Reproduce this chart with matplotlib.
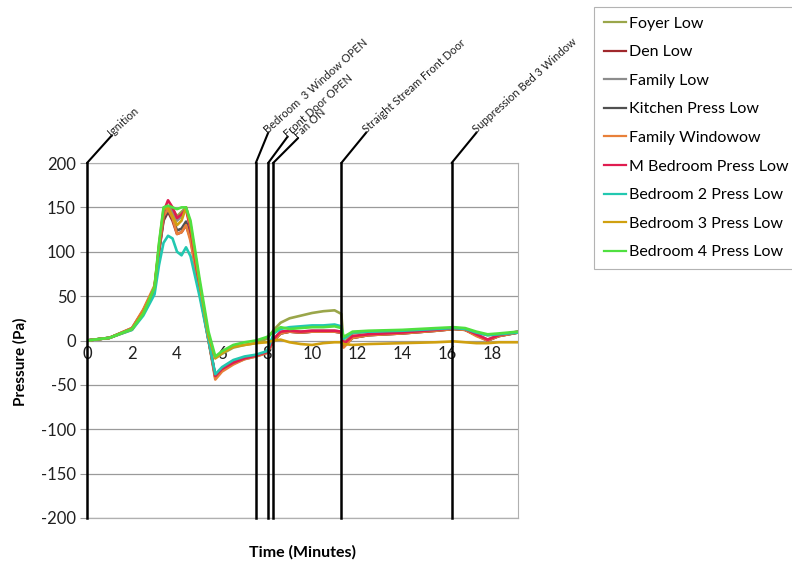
import matplotlib
matplotlib.use("Agg")
import matplotlib.pyplot as plt

plt.rcParams['font.family'] = ['Lato', 'DejaVu Sans']
plt.rcParams['axes.unicode_minus'] = False

# ---- data ----
t = [0, 1, 2, 2.5, 3, 3.2, 3.4, 3.6, 3.8, 4.0, 4.2, 4.4, 4.6, 5.0, 5.4, 5.7, 6.0, 6.5, 7.0, 7.5,
     8.0, 8.3, 8.6, 9.0, 9.5, 10.0, 10.5, 11.0, 11.3, 11.4, 11.8, 12.5, 14, 15.5, 16.3, 16.8, 17.3, 17.8, 18.3, 19.15]

foyer = [0, 3, 12, 30, 58, 105, 145, 150, 148, 140, 145, 150, 130, 65, 5, -20, -15, -8, -5, -3,
         2, 12, 20, 25, 28, 31, 33, 34, 30, -3, 8, 10, 11, 13, 14, 13, 9, 6, 7, 9]
den = [0, 3, 14, 34, 60, 100, 135, 145, 135, 120, 122, 130, 115, 55, 0, -40, -32, -25, -20, -17,
       -13, 0, 8, 10, 9, 10, 10, 10, 9, -6, 3, 6, 8, 11, 13, 12, 6, 0, 5, 9]
family = [0, 3, 13, 32, 58, 102, 140, 150, 145, 135, 140, 150, 128, 60, 2, -42, -33, -26, -21, -18,
          -14, 1, 9, 11, 10, 11, 11, 11, 10, -5, 4, 7, 9, 12, 14, 13, 7, 1, 6, 10]
kitchen = [0, 3, 13, 33, 59, 101, 137, 146, 138, 124, 126, 134, 118, 57, 1, -41, -33, -25, -20, -17,
           -13, 0, 8, 10, 9, 10, 10, 10, 9, -6, 3, 6, 8, 11, 13, 12, 6, 0, 5, 9]
family_window = [0, 3, 14, 35, 62, 103, 140, 148, 138, 120, 122, 130, 112, 55, 0, -44, -35, -27, -21, -18,
                 -14, 0, 8, 10, 9, 10, 10, 10, 9, -8, 3, 6, 8, 11, 13, 12, 5, 0, 5, 9]
m_bedroom = [0, 3, 13, 32, 58, 105, 145, 158, 150, 138, 142, 148, 125, 60, 2, -40, -32, -25, -20, -17,
             -13, 2, 10, 11, 10, 11, 11, 11, 10, -4, 5, 7, 9, 12, 14, 13, 7, 1, 6, 10]
bedroom2 = [0, 3, 12, 28, 52, 85, 110, 118, 115, 100, 96, 105, 95, 50, 0, -38, -30, -22, -18, -16,
            -12, 8, 13, 15, 16, 17, 17, 18, 16, 2, 9, 10, 11, 13, 14, 13, 9, 6, 7, 9]
bedroom3 = [0, 3, 13, 32, 60, 108, 148, 150, 140, 130, 135, 150, 130, 65, 5, -20, -14, -7, -5, -3,
            -2, 0, 1, -2, -4, -5, -3, -2, -2, -4, -5, -4, -3, -2, -1, -2, -3, -3, -2, -2]
bedroom4 = [0, 3, 13, 30, 60, 110, 150, 152, 150, 148, 150, 150, 135, 70, 10, -18, -12, -5, -2, 0,
            4, 10, 15, 13, 14, 15, 15, 16, 14, 4, 10, 11, 12, 14, 15, 14, 10, 7, 8, 10]

series_names = ["Foyer Low", "Den Low", "Family Low", "Kitchen Press Low", "Family Windowow",
                "M Bedroom Press Low", "Bedroom 2 Press Low", "Bedroom 3 Press Low", "Bedroom 4 Press Low"]
series_values = [foyer, den, family, kitchen, family_window, m_bedroom, bedroom2, bedroom3, bedroom4]
series_colors = ["#9aa64a", "#a0282c", "#8c8c8c", "#505050", "#e8803a",
                 "#e01c50", "#22c8b0", "#d0a010", "#50e040"]

event_times = [0, 7.5, 8.05, 8.27, 11.3, 16.2]
event_labels = ["Ignition", "Bedroom  3 Window OPEN", "Front Door OPEN", "Fan ON",
                "Straight Stream Front Door", "Suppression Bed 3 Window"]
event_offsets = [(18, 20), (9, 22), (14, 19), (18, 18), (18, 22), (18, 22)]

yticks = [-200, -150, -100, -50, 0, 50, 100, 150, 200]
xticks = [0, 2, 4, 6, 8, 10, 12, 14, 16, 18]

# ---- figure ----
fig = plt.figure(figsize=(7.92, 5.61), dpi=100)
ax = fig.add_axes([87/792, 1-518/561, (518-87)/792, (518-163)/561])

for name, vals, col in zip(series_names, series_values, series_colors):
    ax.plot(t, vals, color=col, lw=1.9, label=name)

ax.set_xlim(0, 19.15)
ax.set_ylim(-200, 200)
ax.set_yticks(yticks)
ax.set_xticks(xticks)
ax.yaxis.grid(True, color="#9a9a9a", lw=0.9)
ax.set_axisbelow(True)

for sp in ['top', 'right']:
    ax.spines[sp].set_color("#b0b0b0")
ax.spines['left'].set_visible(False)
ax.spines['bottom'].set_position(('data', 0))
ax.spines['bottom'].set_visible(False)
ax.plot([0, 1], [0, 0], transform=ax.transAxes, color="#b0b0b0", lw=0.9, clip_on=False)

ax.tick_params(axis='x', length=0, labelsize=12, pad=4, colors="#202020")
ax.tick_params(axis='y', length=5, color="#9a9a9a", labelsize=12, labelcolor="#202020", pad=3)

# event lines and leader labels
xtr = ax.get_xaxis_transform()
for et, lab, (dx, dy) in zip(event_times, event_labels, event_offsets):
    ax.axvline(et, color="black", lw=1.8, zorder=5, clip_on=False)
    ax.annotate("", xy=(et, 1), xycoords=xtr, xytext=(dx, dy), textcoords='offset points',
                arrowprops=dict(arrowstyle='-', color='black', lw=1.5, shrinkA=0, shrinkB=0),
                annotation_clip=False)
    ax.annotate(lab, xy=(et, 1), xycoords=xtr, xytext=(dx + 1, dy - 2), textcoords='offset points',
                rotation=42, rotation_mode='anchor', ha='left', va='bottom', fontsize=8,
                color="#202020", annotation_clip=False)

ax.set_xlabel("Time (Minutes)", fontsize=11.5, fontweight='bold', labelpad=0)
ax.xaxis.set_label_coords(0.5, -0.075)
ax.set_ylabel("Pressure (Pa)", fontsize=11, fontweight='bold')
ax.yaxis.set_label_coords(-0.138, 0.44)

leg = fig.legend(loc='upper left', bbox_to_anchor=(594/792, 1-7/561), fontsize=11.5,
                 frameon=True, fancybox=False, edgecolor="#a0a0a0", handlelength=1.4,
                 handletextpad=0.2, labelspacing=0.9, borderpad=0.6, borderaxespad=0)
leg.get_frame().set_linewidth(0.8)
for line in leg.get_lines():
    line.set_linewidth(1.6)

fig.savefig("out.png", dpi=100)
